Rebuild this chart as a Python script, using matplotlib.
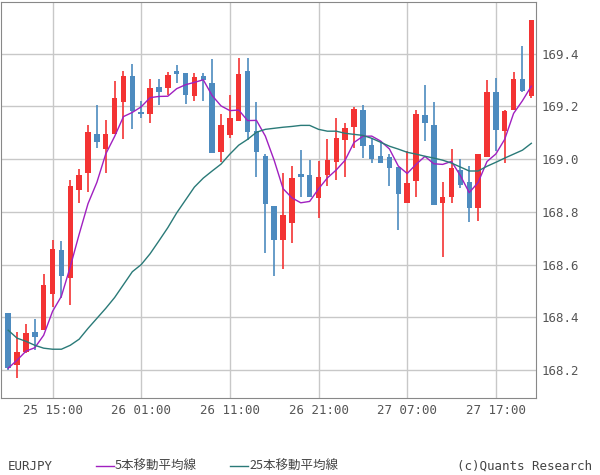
import numpy as np
import pandas as pd
import matplotlib
matplotlib.use('Agg')
import matplotlib.pyplot as plt

plt.rcParams['font.family'] = ['Noto Sans CJK JP', 'DejaVu Sans']

# hourly EURJPY candles, 25 10:00 .. 27 21:00
opens = [168.415, 168.219, 168.268, 168.343, 168.351, 168.490, 168.657, 168.551, 168.883, 168.947,
         169.094, 169.038, 169.094, 169.215, 169.317, 169.177, 169.170, 169.275, 169.271, 169.336,
         169.328, 169.238, 169.317, 169.290, 169.026, 169.090, 169.143, 169.336, 169.106, 169.011,
         168.823, 168.694, 168.758, 168.943, 168.940, 168.853, 168.940, 168.988, 169.071, 169.121,
         169.188, 169.053, 169.011, 169.007, 168.970, 168.834, 168.917, 169.166, 169.128, 168.834,
         168.856, 168.958, 168.913, 168.815, 169.007, 169.253, 169.106, 169.185, 169.305, 169.238]
highs = [168.415, 168.343, 168.373, 168.392, 168.566, 168.694, 168.690, 168.921, 168.962, 169.128,
         169.204, 169.147, 169.298, 169.336, 169.362, 169.219, 169.305, 169.305, 169.332, 169.358,
         169.328, 169.328, 169.328, 169.381, 169.170, 169.245, 169.385, 169.385, 169.215, 169.019,
         168.823, 168.947, 168.973, 169.034, 168.996, 168.992, 169.075, 169.155, 169.136, 169.196,
         169.207, 169.079, 169.068, 169.019, 168.970, 169.030, 169.185, 169.283, 169.215, 168.913,
         169.038, 169.000, 168.973, 169.019, 169.302, 169.309, 169.185, 169.332, 169.430, 169.528]
lows = [168.200, 168.170, 168.264, 168.275, 168.351, 168.441, 168.475, 168.445, 168.834, 168.875,
        169.041, 168.947, 169.094, 169.075, 169.113, 169.155, 169.136, 169.207, 169.245, 169.287,
        169.211, 169.222, 169.222, 169.022, 168.988, 169.079, 169.143, 169.071, 168.932, 168.645,
        168.558, 168.585, 168.683, 168.856, 168.856, 168.777, 168.898, 168.921, 168.932, 169.041,
        169.004, 168.985, 168.985, 168.898, 168.732, 168.834, 168.856, 169.068, 168.826, 168.630,
        168.834, 168.890, 168.762, 168.766, 169.007, 169.030, 168.985, 169.185, 169.256, 169.230]
closes = [168.207, 168.268, 168.340, 168.324, 168.521, 168.660, 168.555, 168.898, 168.940, 169.102,
          169.064, 169.094, 169.230, 169.317, 169.181, 169.170, 169.268, 169.253, 169.321, 169.324,
          169.245, 169.313, 169.302, 169.022, 169.128, 169.155, 169.324, 169.102, 169.026, 168.830,
          168.694, 168.788, 168.928, 168.932, 168.856, 168.932, 168.996, 169.079, 169.117, 169.192,
          169.049, 169.000, 168.985, 168.966, 168.868, 168.909, 169.173, 169.136, 168.826, 168.856,
          168.966, 168.902, 168.815, 169.019, 169.253, 169.109, 169.181, 169.305, 169.260, 169.528]
# 25-bar MA (needs bars before the window)
ma25 = [168.351, 168.321, 168.309, 168.294, 168.283, 168.279, 168.279, 168.294, 168.317, 168.358,
        168.396, 168.434, 168.475, 168.524, 168.573, 168.600, 168.641, 168.690, 168.740, 168.796,
        168.845, 168.894, 168.928, 168.955, 168.981, 169.019, 169.053, 169.075, 169.102, 169.113,
        169.117, 169.121, 169.124, 169.128, 169.128, 169.113, 169.106, 169.106, 169.098, 169.094,
        169.090, 169.079, 169.064, 169.049, 169.038, 169.026, 169.019, 169.011, 169.004, 168.996,
        168.985, 168.970, 168.955, 168.955, 168.973, 168.988, 169.004, 169.019, 169.034, 169.060]
tick_idx = [5, 15, 25, 35, 45, 55]
tick_labels = ['25 15:00', '26 01:00', '26 11:00', '26 21:00', '27 07:00', '27 17:00']
yticks = [168.2, 168.4, 168.6, 168.8, 169.0, 169.2, 169.4]

ma5 = pd.Series(closes).rolling(5, min_periods=1).mean().values
x = np.arange(len(closes))

RED = '#f33333'
BLUE = '#4d8bbf'
GRID = '#c8c8c8'

fig = plt.figure(figsize=[6.0, 4.75], dpi=100)
ax = fig.add_axes([0.002, 1 - 398/475., 535/600., 396/475.])

for i in x:
    o, h, l, c = opens[i], highs[i], lows[i], closes[i]
    col = RED if c >= o else BLUE
    ax.vlines(i, l, h, color=col, lw=1.2, zorder=3)
    ax.bar(i, abs(c - o) if abs(c - o) > 0.003 else 0.004, bottom=min(o, c),
           width=0.62, color=col, zorder=3)

ax.plot(x, ma5, '-', c='#a020c0', lw=1.0, zorder=4)
ax.plot(x, ma25, '-', c='#2a7a78', lw=1.0, zorder=4)

ax.set_xlim(-0.79, 59.55)
ax.set_ylim(168.094, 169.596)
ax.set_xticks(tick_idx)
ax.set_xticklabels(tick_labels, family='DejaVu Sans Mono', fontsize=9, color='#555555')
ax.set_yticks(yticks)
ax.set_yticklabels(['%.1f' % v for v in yticks], family='DejaVu Sans Mono',
                   fontsize=9, color='#555555')
ax.yaxis.tick_right()
ax.tick_params(length=0, pad=4)
ax.grid(which='major', axis='both', c=GRID, ls='-', lw=1.0, zorder=0)
ax.set_axisbelow(True)
for s in ax.spines.values():
    s.set_color('#888888')

# legend row
fig.text(8/600., 1 - 466/475., 'EURJPY', fontsize=9, color='#444444',
         family='DejaVu Sans Mono', va='center')
fig.add_artist(plt.Line2D([96/600., 114/600.], [1 - 466/475.] * 2, c='#a020c0', lw=1.0))
fig.text(115/600., 1 - 466/475., '5本移動平均線', fontsize=9, color='#444444', va='center')
fig.add_artist(plt.Line2D([230/600., 248/600.], [1 - 466/475.] * 2, c='#2a7a78', lw=1.0))
fig.text(249/600., 1 - 466/475., '25本移動平均線', fontsize=9, color='#444444', va='center')
fig.text(592/600., 1 - 466/475., '(c)Quants Research', fontsize=9, color='#444444',
         family='DejaVu Sans Mono', va='center', ha='right')

plt.savefig('out.png', dpi=100)
